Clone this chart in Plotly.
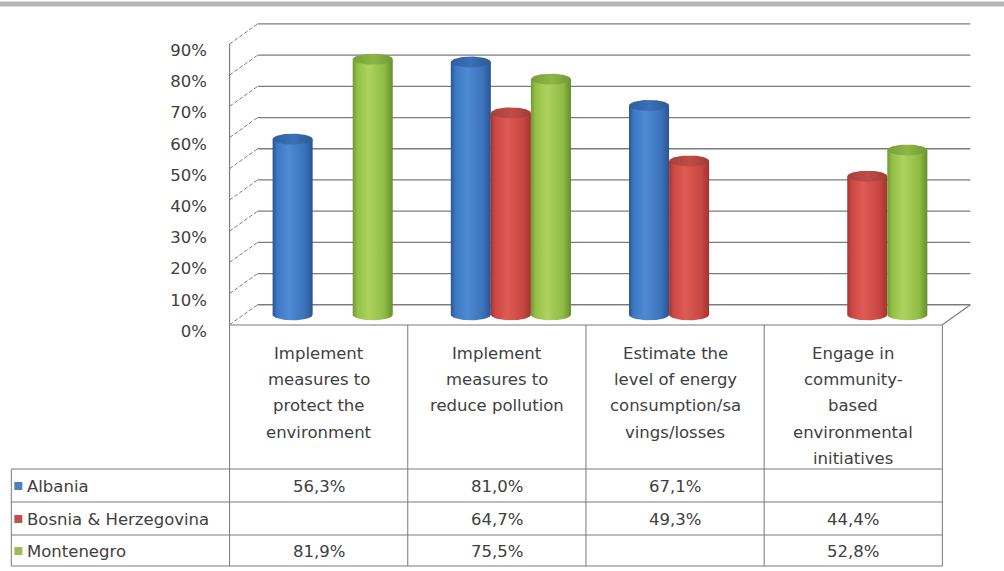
import numpy as np
import plotly.graph_objects as go

# ---- data -------------------------------------------------------------
categories = [
    "Implement<br>measures to<br>protect the<br>environment",
    "Implement<br>measures to<br>reduce pollution",
    "Estimate the<br>level of energy<br>consumption/sa<br>vings/losses",
    "Engage in<br>community-<br>based<br>environmental<br>initiatives",
]
series_names = ["Albania", "Bosnia & Herzegovina", "Montenegro"]
albania = [56.3, 81.0, 67.1, None]
bosnia = [None, 64.7, 49.3, 44.4]
montenegro = [81.9, 75.5, None, 52.8]
series_values = [albania, bosnia, montenegro]
y_ticks = [0, 10, 20, 30, 40, 50, 60, 70, 80, 90]

# ---- styling ----------------------------------------------------------
key_colors = ["#4F81BD", "#C0504D", "#9BBB59"]
body_scales = [
    [[0, "#2a5794"], [0.12, "#3c78c4"], [0.4, "#4f8ad4"], [0.8, "#3b73bb"], [1, "#2a5590"]],
    [[0, "#a83532"], [0.12, "#cc4843"], [0.4, "#df5b55"], [0.8, "#c84742"], [1, "#a5322f"]],
    [[0, "#6f9a33"], [0.12, "#94c048"], [0.4, "#acd35d"], [0.8, "#8fbb45"], [1, "#658f2c"]],
]
cap_scales = [
    [[0, "#2f5f9e"], [0.5, "#3a70b6"], [1, "#2d5a94"]],
    [[0, "#a8403c"], [0.5, "#bf4c47"], [1, "#a33a36"]],
    [[0, "#789f38"], [0.5, "#8db646"], [1, "#739a34"]],
]
text_color = "#404040"
font_family = "DejaVu Sans"
font_size = 16.5
grid_color = "#7c7c7c"

# ---- geometry of the oblique 3-D frame ---------------------------------
W, H = 1004, 571
PX_CAT = 178.0            # pixels per category
PX_PCT = 3.12             # pixels per percent
Y0_PX = 331.0             # pixel row of y = 0 on the axis
X_MIN, X_MAX = -0.52, 3.70
Y_MAX = 100.0
FRONT = 2.0               # front floor edge, in axis units
DX = 28.0 / PX_CAT        # depth offset (x)
DY = 20.0 / PX_PCT        # depth offset (y)
SLOT = 40.0 / PX_CAT      # distance between neighbouring cylinders
RX = 20.0 / PX_CAT        # cylinder radius
RY = 5.5 / PX_PCT         # ellipse half-height
BASE = FRONT + DY / 2     # cylinders stand at mid depth

plot_left = 230.0 + (X_MIN + 0.5) * PX_CAT
plot_w = (X_MAX - X_MIN) * PX_CAT
plot_h = Y_MAX * PX_PCT
plot_top = Y0_PX - plot_h


def px_x(px):
    return (px - plot_left) / plot_w


def px_y(py):
    return (Y0_PX - py) / plot_h


fig = go.Figure()

# back wall gridlines
for v in y_ticks:
    fig.add_trace(go.Scatter(
        x=[-0.5 + DX, 3.5 + DX], y=[v + FRONT + DY] * 2, mode="lines",
        line=dict(color=grid_color, width=1.3), hoverinfo="skip", showlegend=False))
# left wall diagonals
for v in y_ticks:
    fig.add_trace(go.Scatter(
        x=[-0.5, -0.5 + DX], y=[v + FRONT, v + FRONT + DY], mode="lines",
        line=dict(color=grid_color, width=1, dash="4px,2px"), hoverinfo="skip", showlegend=False))
# front left edge and floor's right edge
fig.add_trace(go.Scatter(
    x=[-0.5, -0.5], y=[FRONT, y_ticks[-1] + FRONT], mode="lines",
    line=dict(color=grid_color, width=1.2), hoverinfo="skip", showlegend=False))
fig.add_trace(go.Scatter(
    x=[3.5, 3.5 + DX], y=[FRONT, FRONT + DY], mode="lines",
    line=dict(color=grid_color, width=1.2), hoverinfo="skip", showlegend=False))

# cylinders
t_low = np.linspace(0, -np.pi, 40)
t_full = np.linspace(0, 2 * np.pi, 80)
for ci in range(len(categories)):
    for si, vals in enumerate(series_values):
        v = vals[ci]
        if v is None:
            continue
        cx = ci + (si - 1) * SLOT + DX / 2
        top = v + BASE
        bx = [cx - RX, cx + RX] + list(cx + RX * np.cos(t_low))
        by = [top, top] + list(BASE + RY * np.sin(t_low))
        fig.add_trace(go.Scatter(
            x=bx, y=by, mode="lines", fill="toself", line=dict(width=0, color=key_colors[si]),
            fillgradient=dict(type="horizontal", colorscale=body_scales[si]),
            hoverinfo="skip", showlegend=False))
        fig.add_trace(go.Scatter(
            x=cx + RX * np.cos(t_full), y=top + RY * np.sin(t_full), mode="lines",
            fill="toself", line=dict(width=0, color=key_colors[si]),
            fillgradient=dict(type="horizontal", colorscale=cap_scales[si]),
            hoverinfo="skip", showlegend=False))

# ---- data table under the chart -----------------------------------------
line_style = dict(color="#7a7a7a", width=1)
table_top, header_bottom = 325.0, 469.0
row_edges = [469.0, 502.0, 535.0, 566.0]
row_centers = [486.0, 519.0, 551.0]
table_left, table_right = 12.0, 942.0
shapes = []
for k in range(len(categories) + 1):
    shapes.append(dict(type="line", xref="x", yref="paper", x0=k - 0.5, x1=k - 0.5,
                       y0=px_y(table_top), y1=px_y(row_edges[-1]), line=line_style))
shapes.append(dict(type="line", xref="paper", yref="paper",
                   x0=px_x(table_left), x1=px_x(table_left),
                   y0=px_y(row_edges[0]), y1=px_y(row_edges[-1]), line=line_style))
shapes.append(dict(type="line", xref="paper", yref="paper",
                   x0=px_x(230.0), x1=px_x(table_right),
                   y0=px_y(table_top), y1=px_y(table_top), line=line_style))
for ry in row_edges:
    shapes.append(dict(type="line", xref="paper", yref="paper",
                       x0=px_x(table_left), x1=px_x(table_right),
                       y0=px_y(ry), y1=px_y(ry), line=line_style))
# legend keys
for si, c in enumerate(key_colors):
    yc = row_centers[si]
    shapes.append(dict(type="rect", xref="paper", yref="paper", line=dict(width=0),
                       fillcolor=c, x0=px_x(15), x1=px_x(23),
                       y0=px_y(yc + 4), y1=px_y(yc - 4)))
# grey band across the top
shapes.append(dict(type="rect", xref="paper", yref="paper", line=dict(width=0),
                   fillcolor="#b5b5b5", x0=px_x(-5), x1=px_x(W + 5),
                   y0=px_y(6.5), y1=px_y(1.5)))

font = dict(family=font_family, size=font_size, color=text_color)
annotations = []
for ci, cat in enumerate(categories):
    for li, part in enumerate(cat.split("<br>")):
        annotations.append(dict(
            xref="x", yref="paper", x=ci, y=px_y(353.0 + li * 26.4), text=part,
            showarrow=False, xanchor="center", yanchor="middle", font=font))
for si, name in enumerate(series_names):
    annotations.append(dict(
        xref="paper", yref="paper", x=px_x(26), y=px_y(row_centers[si]), text=name,
        showarrow=False, xanchor="left", yanchor="middle", font=font))
    for ci, v in enumerate(series_values[si]):
        if v is None:
            continue
        annotations.append(dict(
            xref="x", yref="paper", x=ci, y=px_y(row_centers[si]),
            text=f"{v:.1f}".replace(".", ",") + "%",
            showarrow=False, xanchor="center", yanchor="middle", font=font))

fig.update_layout(
    width=W, height=H,
    margin=dict(l=plot_left, r=W - plot_left - plot_w, t=plot_top, b=H - Y0_PX, autoexpand=False),
    paper_bgcolor="white", plot_bgcolor="white",
    showlegend=False, shapes=shapes, annotations=annotations,
    xaxis=dict(range=[X_MIN, X_MAX], visible=False, fixedrange=True),
    yaxis=dict(range=[0, Y_MAX], tickvals=y_ticks, ticktext=[f"{t}%" for t in y_ticks],
               showgrid=False, zeroline=False, showline=False, ticks="",
               ticklabelstandoff=18, tickfont=font, fixedrange=True),
)

fig.write_html("out.html")
